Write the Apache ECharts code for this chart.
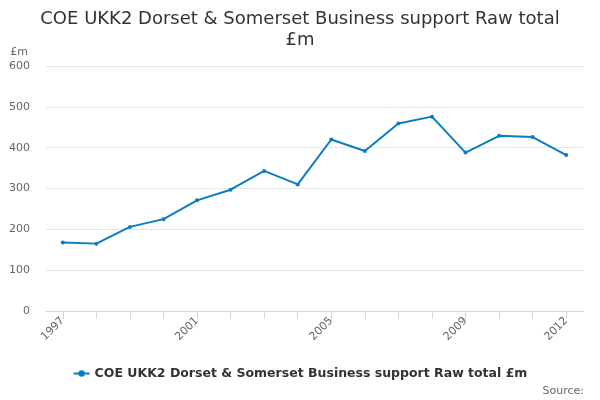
<!DOCTYPE html>
<html>
<head>
<meta charset="utf-8">
<script src="https://cdn.jsdelivr.net/npm/echarts@6/dist/echarts.min.js"></script>
<style>html,body{margin:0;padding:0;background:#fff}#c{width:600px;height:400px}</style>
</head>
<body>
<div id="c"></div>
<script>
var categories = ['1997','1998','1999','2000','2001','2002','2003','2004','2005','2006','2007','2008','2009','2010','2011','2012'];
var values = [168, 165, 206, 225, 271, 297, 343, 310, 420, 392, 459, 476, 388, 429, 426, 382];
var yTicks = [0, 100, 200, 300, 400, 500, 600];
var seriesName = 'COE UKK2 Dorset & Somerset Business support Raw total £m';
var titleText = 'COE UKK2 Dorset & Somerset Business support Raw total\n£m';

var font = '"DejaVu Sans", Verdana, sans-serif';
var chart = echarts.init(document.getElementById('c'), null, {renderer: 'canvas'});
chart.setOption({
  animation: false,
  backgroundColor: '#fff',
  textStyle: {fontFamily: font},
  title: [{
    text: titleText,
    left: 'center',
    top: 4,
    textStyle: {fontFamily: font, fontSize: 18, fontWeight: 'normal', color: '#333', lineHeight: 21, align: 'center'}
  }, {
    text: 'Source:',
    right: 11,
    top: 381,
    textStyle: {fontFamily: font, fontSize: 11, fontWeight: 'normal', color: '#666'}
  }],
  legend: {
    bottom: 15,
    left: 'center',
    itemWidth: 16,
    itemHeight: 8,
    textStyle: {fontFamily: font, fontSize: 12.5, fontWeight: 'bold', color: '#333'},
    data: [seriesName]
  },
  grid: {left: 46, right: 17, top: 66, bottom: 89, containLabel: false},
  xAxis: {
    type: 'category',
    data: categories,
    boundaryGap: true,
    axisLine: {lineStyle: {color: '#ccd6eb'}},
    axisTick: {show: true, interval: 0, length: 8, lineStyle: {color: '#ccd6eb'}, alignWithLabel: true},
    axisLabel: {
      rotate: 45,
      color: '#666',
      fontSize: 11,
      fontFamily: font,
      margin: 8,
      interval: function (i) { return i % 4 === 0 || i === categories.length - 1; }
    }
  },
  yAxis: {
    type: 'value',
    min: yTicks[0],
    max: yTicks[yTicks.length - 1],
    interval: 100,
    name: '£m',
    nameLocation: 'end',
    nameGap: 8,
    nameTextStyle: {color: '#666', fontSize: 11, fontFamily: font, align: 'right', padding: [0, 18, 0, 0]},
    axisLine: {show: false},
    axisTick: {show: false},
    axisLabel: {color: '#666', fontSize: 11, fontFamily: font, margin: 16},
    splitLine: {lineStyle: {color: '#e6e6e6'}}
  },
  series: [{
    name: seriesName,
    type: 'line',
    data: values,
    color: '#0a7cc2',
    lineStyle: {width: 2, color: '#0a7cc2'},
    symbol: 'circle',
    symbolSize: 4,
    showSymbol: true,
    itemStyle: {color: '#0a7cc2'}
  }]
});
</script>
</body>
</html>
